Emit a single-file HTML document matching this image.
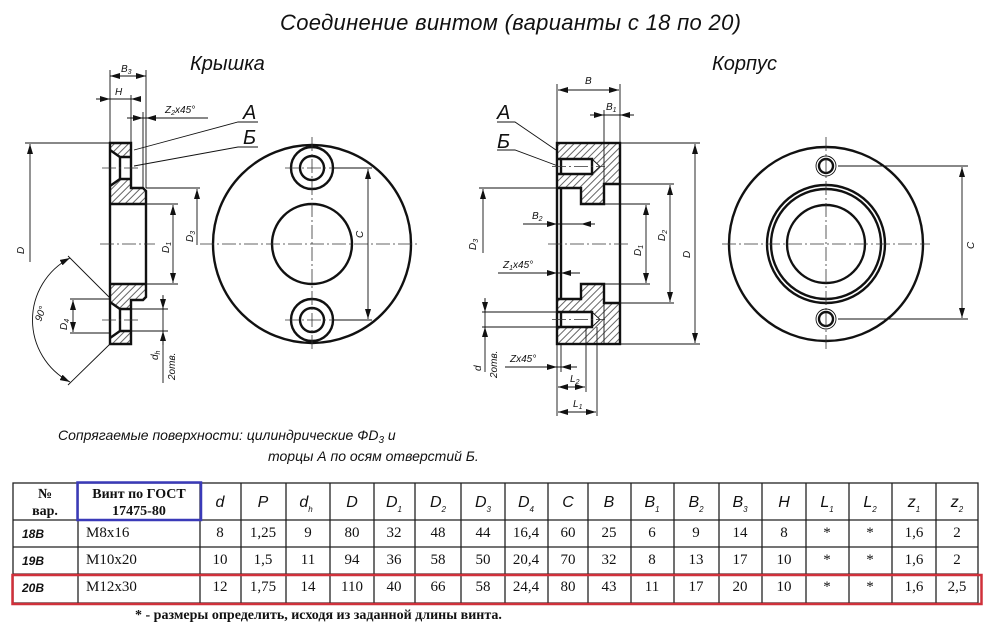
<!DOCTYPE html>
<html><head><meta charset="utf-8"><style>
html,body{margin:0;padding:0;background:#fff;}
svg{display:block;}
.t{font-family:"Liberation Sans","DejaVu Sans",sans-serif;font-style:italic;fill:#111;}
.s{font-family:"Liberation Serif","DejaVu Serif",serif;fill:#111;}
.th{stroke:#111;stroke-width:2.4;fill:none;}
.tn{stroke:#111;stroke-width:0.9;fill:none;}
.cl{stroke:#333;stroke-width:0.8;fill:none;stroke-dasharray:14 3 2 3;}
.dm{stroke:#111;stroke-width:0.9;fill:none;marker-start:url(#ar);marker-end:url(#ar);}
.d1{stroke:#111;stroke-width:0.9;fill:none;marker-end:url(#ar);}
</style></head><body>
<svg width="1000" height="630" viewBox="0 0 1000 630" xmlns="http://www.w3.org/2000/svg">
<defs>
<marker id="ar" viewBox="0 0 10 6" refX="10" refY="3" markerWidth="10" markerHeight="6" markerUnits="userSpaceOnUse" orient="auto-start-reverse"><path d="M0,0L10,3L0,6z" fill="#111"/></marker>
<pattern id="h" x="0" y="0" width="5" height="5" patternUnits="userSpaceOnUse" patternTransform="rotate(45)"><rect width="5" height="5" fill="#fff"/><line x1="2.5" y1="-1" x2="2.5" y2="6" stroke="#555" stroke-width="0.9"/></pattern>
</defs>

<text class="t" x="280" y="30" font-size="22" textLength="461">Соединение винтом (варианты с 18 по 20)</text>
<text class="t" x="190" y="70" font-size="20">Крышка</text>
<text class="t" x="712" y="70" font-size="20">Корпус</text>

<!-- ===== Крышка section ===== -->
<polygon points="110,143 131,143 131,188 143,188 146,191 146,204 110,204" fill="url(#h)"/>
<polygon points="110,284 146,284 146,297 143,300 131,300 131,344 110,344" fill="url(#h)"/>
<polygon points="110,150 120,157 131,157 131,179 120,179 110,186" fill="#fff"/>
<polygon points="110,302 120,309 131,309 131,331 120,331 110,338" fill="#fff"/>
<polygon class="th" points="110,143 131,143 131,188 143,188 146,191 146,297 143,300 131,300 131,344 110,344"/>
<line class="th" x1="110" y1="204" x2="146" y2="204"/>
<line class="th" x1="110" y1="284" x2="146" y2="284"/>
<polyline class="th" points="110,150 120,157 131,157"/><polyline class="th" points="110,186 120,179 131,179"/><line class="th" x1="120" y1="157" x2="120" y2="179"/>
<polyline class="th" points="110,302 120,309 131,309"/><polyline class="th" points="110,338 120,331 131,331"/><line class="th" x1="120" y1="309" x2="120" y2="331"/>
<line class="cl" x1="100" y1="244" x2="155" y2="244"/>
<line class="cl" x1="102" y1="168" x2="140" y2="168"/>
<line class="cl" x1="102" y1="320" x2="140" y2="320"/>
<!-- dims -->
<line class="tn" x1="110" y1="70" x2="110" y2="143"/><line class="tn" x1="146" y1="70" x2="146" y2="188"/><line class="tn" x1="131" y1="95" x2="131" y2="143"/><line class="tn" x1="143" y1="112" x2="143" y2="188"/>
<line class="dm" x1="110" y1="76" x2="146" y2="76"/><text class="t" x="121" y="72" font-size="10">B<tspan font-size="7" dy="2">3</tspan></text>
<line class="tn" x1="96" y1="99" x2="131" y2="99"/><line class="d1" x1="98" y1="99" x2="110" y2="99"/><line class="d1" x1="140" y1="99" x2="131" y2="99"/>
<text class="t" x="115" y="95" font-size="10">H</text>
<line class="tn" x1="127" y1="118" x2="208" y2="118"/><line class="d1" x1="128" y1="118" x2="143" y2="118"/><line class="d1" x1="160" y1="118" x2="146" y2="118"/>
<text class="t" x="165" y="113" font-size="10">Z<tspan font-size="7" dy="2">2</tspan><tspan dy="-2">x45°</tspan></text>
<text class="t" x="243" y="119" font-size="20">А</text><text class="t" x="243" y="144" font-size="20">Б</text>
<polyline class="tn" points="258,122 238,122 134,150"/><polyline class="tn" points="258,147 238,147 134,166"/>
<line class="tn" x1="25" y1="143" x2="110" y2="143"/><line class="d1" x1="30" y1="262" x2="30" y2="144"/>
<text class="t" font-size="10" transform="translate(24,254) rotate(-90)">D</text>
<line class="tn" x1="146" y1="188" x2="200" y2="188"/><line class="d1" x1="197" y1="245" x2="197" y2="189"/>
<text class="t" font-size="10" transform="translate(193,242) rotate(-90)">D<tspan font-size="7" dy="2">3</tspan></text>
<line class="tn" x1="146" y1="204" x2="178" y2="204"/><line class="tn" x1="146" y1="284" x2="178" y2="284"/>
<line class="dm" x1="173" y1="205" x2="173" y2="283"/>
<text class="t" font-size="10" transform="translate(169,253) rotate(-90)">D<tspan font-size="7" dy="2">1</tspan></text>
<line class="tn" x1="70" y1="299" x2="110" y2="299"/><line class="tn" x1="70" y1="333" x2="110" y2="333"/>
<line class="dm" x1="73" y1="300" x2="73" y2="332"/>
<text class="t" font-size="10" transform="translate(67,330) rotate(-90)">D<tspan font-size="7" dy="2">4</tspan></text>
<line class="tn" x1="110" y1="298" x2="68" y2="256"/><line class="tn" x1="110" y1="344" x2="68" y2="385"/>
<path class="dm" d="M70,258 A70,70 0 0,0 70,382"/>
<text class="t" font-size="10" transform="translate(41,322) rotate(-70)">90°</text>
<line class="tn" x1="131" y1="309" x2="168" y2="309"/><line class="tn" x1="131" y1="331" x2="168" y2="331"/>
<line class="tn" x1="163" y1="295" x2="163" y2="383"/><line class="d1" x1="163" y1="296" x2="163" y2="309"/><line class="d1" x1="163" y1="345" x2="163" y2="331"/>
<text class="t" font-size="10" transform="translate(158,360) rotate(-90)">d<tspan font-size="7" dy="2">h</tspan></text>
<text class="t" font-size="10" transform="translate(175,380) rotate(-90)">2отв.</text>

<!-- Крышка front view -->
<circle class="th" cx="312" cy="244" r="99"/>
<circle class="th" cx="312" cy="244" r="40"/>
<circle class="th" cx="312" cy="168" r="21"/><circle class="th" cx="312" cy="168" r="12"/>
<circle class="th" cx="312" cy="320" r="21"/><circle class="th" cx="312" cy="320" r="12"/>
<line class="cl" x1="200" y1="244" x2="420" y2="244"/><line class="cl" x1="312" y1="137" x2="312" y2="352"/>
<line class="cl" x1="285" y1="168" x2="340" y2="168"/><line class="cl" x1="285" y1="320" x2="340" y2="320"/>
<line class="tn" x1="333" y1="168" x2="372" y2="168"/><line class="tn" x1="333" y1="320" x2="372" y2="320"/>
<line class="dm" x1="368" y1="169" x2="368" y2="319"/>
<text class="t" font-size="10" transform="translate(363,238) rotate(-90)">C</text>

<!-- ===== Корпус section ===== -->
<polygon points="557,143 620,143 620,184 604,184 604,204 581,204 581,188 557,188" fill="url(#h)"/>
<polygon points="557,299 581,299 581,284 604,284 604,303 620,303 620,344 557,344" fill="url(#h)"/>
<polygon points="557,159 592,159 600,166.5 592,174 557,174" fill="#fff"/>
<polygon points="557,312 592,312 600,319.5 592,327 557,327" fill="#fff"/>
<rect class="th" x="557" y="143" width="63" height="201"/>
<polyline class="th" points="557,188 581,188 581,204 604,204 604,184 620,184"/>
<polyline class="th" points="557,299 581,299 581,284 604,284 604,303 620,303"/>
<line class="th" x1="561" y1="188" x2="561" y2="299"/>
<line class="tn" x1="604" y1="143" x2="604" y2="184"/><line class="tn" x1="604" y1="303" x2="604" y2="344"/>
<polyline class="th" points="557,159 592,159 592,174 557,174"/><polyline class="tn" points="592,159 600,166.5 592,174"/><line class="th" x1="561" y1="159" x2="561" y2="174"/>
<polyline class="th" points="557,312 592,312 592,327 557,327"/><polyline class="tn" points="592,312 600,319.5 592,327"/><line class="th" x1="561" y1="312" x2="561" y2="327"/>
<line class="cl" x1="548" y1="244" x2="630" y2="244"/>
<line class="cl" x1="552" y1="166.5" x2="605" y2="166.5"/><line class="cl" x1="552" y1="319.5" x2="605" y2="319.5"/>
<!-- dims -->
<line class="tn" x1="557" y1="84" x2="557" y2="143"/><line class="tn" x1="620" y1="84" x2="620" y2="143"/><line class="tn" x1="604" y1="110" x2="604" y2="143"/>
<line class="dm" x1="558" y1="90" x2="619" y2="90"/><text class="t" x="585" y="84" font-size="10">B</text>
<line class="tn" x1="590" y1="115" x2="634" y2="115"/><line class="d1" x1="591" y1="115" x2="604" y2="115"/><line class="d1" x1="633" y1="115" x2="620" y2="115"/>
<text class="t" x="606" y="110" font-size="10">B<tspan font-size="7" dy="2">1</tspan></text>
<text class="t" x="497" y="119" font-size="20">А</text><text class="t" x="497" y="148" font-size="20">Б</text>
<polyline class="tn" points="497,122 515,122 556,150"/><polyline class="tn" points="497,150 515,150 558,166"/>
<line class="tn" x1="479" y1="188" x2="557" y2="188"/><line class="d1" x1="483" y1="253" x2="483" y2="189"/>
<text class="t" font-size="10" transform="translate(476,250) rotate(-90)">D<tspan font-size="7" dy="2">3</tspan></text>
<line class="tn" x1="523" y1="224" x2="595" y2="224"/><line class="d1" x1="545" y1="224" x2="557" y2="224"/><line class="d1" x1="593" y1="224" x2="581" y2="224"/>
<text class="t" x="532" y="219" font-size="10">B<tspan font-size="7" dy="2">2</tspan></text>
<line class="tn" x1="498" y1="273" x2="580" y2="273"/><line class="d1" x1="545" y1="273" x2="557" y2="273"/><line class="d1" x1="575" y1="273" x2="561" y2="273"/>
<text class="t" x="503" y="268" font-size="10">Z<tspan font-size="7" dy="2">1</tspan><tspan dy="-2">x45°</tspan></text>
<line class="tn" x1="604" y1="204" x2="650" y2="204"/><line class="tn" x1="604" y1="284" x2="650" y2="284"/>
<line class="dm" x1="646" y1="205" x2="646" y2="283"/>
<text class="t" font-size="10" transform="translate(641,256) rotate(-90)">D<tspan font-size="7" dy="2">1</tspan></text>
<line class="tn" x1="620" y1="184" x2="674" y2="184"/><line class="tn" x1="620" y1="303" x2="674" y2="303"/>
<line class="dm" x1="670" y1="185" x2="670" y2="302"/>
<text class="t" font-size="10" transform="translate(665,241) rotate(-90)">D<tspan font-size="7" dy="2">2</tspan></text>
<line class="tn" x1="620" y1="143" x2="700" y2="143"/><line class="tn" x1="620" y1="344" x2="700" y2="344"/>
<line class="dm" x1="695" y1="144" x2="695" y2="343"/>
<text class="t" font-size="10" transform="translate(690,258) rotate(-90)">D</text>
<line class="tn" x1="482" y1="312" x2="557" y2="312"/><line class="tn" x1="482" y1="327" x2="557" y2="327"/>
<line class="tn" x1="485" y1="298" x2="485" y2="372"/><line class="d1" x1="485" y1="299" x2="485" y2="312"/><line class="d1" x1="485" y1="340" x2="485" y2="327"/>
<text class="t" font-size="10" transform="translate(481,371) rotate(-90)">d</text>
<text class="t" font-size="10" transform="translate(497,378) rotate(-90)">2отв.</text>
<line class="tn" x1="557" y1="344" x2="557" y2="416"/><line class="tn" x1="561" y1="344" x2="561" y2="372"/><line class="tn" x1="586" y1="327" x2="586" y2="392"/><line class="tn" x1="597" y1="327" x2="597" y2="416"/>
<line class="tn" x1="505" y1="367" x2="577" y2="367"/><line class="d1" x1="545" y1="367" x2="557" y2="367"/><line class="d1" x1="573" y1="367" x2="561" y2="367"/>
<text class="t" x="510" y="362" font-size="10">Zx45°</text>
<line class="dm" x1="558" y1="387" x2="585" y2="387"/><text class="t" x="570" y="382" font-size="10">L<tspan font-size="7" dy="2">2</tspan></text>
<line class="dm" x1="558" y1="412" x2="596" y2="412"/><text class="t" x="573" y="407" font-size="10">L<tspan font-size="7" dy="2">1</tspan></text>

<!-- Корпус front view -->
<circle class="th" cx="826" cy="244" r="97" stroke-width="1.8"/>
<circle class="th" cx="826" cy="244" r="59"/>
<circle class="th" cx="826" cy="244" r="55"/>
<circle class="th" cx="826" cy="244" r="39"/>
<circle class="tn" cx="826" cy="166" r="10"/><circle class="th" cx="826" cy="166" r="7"/>
<circle class="tn" cx="826" cy="319" r="10"/><circle class="th" cx="826" cy="319" r="7"/>
<line class="cl" x1="722" y1="244" x2="930" y2="244"/><line class="cl" x1="826" y1="137" x2="826" y2="352"/>
<line class="tn" x1="838" y1="166" x2="968" y2="166"/><line class="tn" x1="838" y1="319" x2="968" y2="319"/>
<line class="dm" x1="962" y1="167" x2="962" y2="318"/>
<text class="t" font-size="10" transform="translate(974,249) rotate(-90)">C</text>

<!-- note -->
<text class="t" x="58" y="440" font-size="14">Сопрягаемые поверхности: цилиндрические ФD<tspan font-size="10" dy="3">3</tspan><tspan dy="-3"> и</tspan></text>
<text class="t" x="268" y="461" font-size="14">торцы А по осям отверстий Б.</text>

<!-- table -->
<g stroke="#222" stroke-width="1.3" fill="none">
<rect x="13" y="483" width="965" height="120"/>
<line x1="13" y1="520" x2="978" y2="520"/><line x1="13" y1="547" x2="978" y2="547"/><line x1="13" y1="574" x2="978" y2="574"/>
<line x1="78" y1="483" x2="78" y2="603"/><line x1="200" y1="483" x2="200" y2="603"/><line x1="241" y1="483" x2="241" y2="603"/><line x1="286" y1="483" x2="286" y2="603"/><line x1="330" y1="483" x2="330" y2="603"/><line x1="374" y1="483" x2="374" y2="603"/><line x1="415" y1="483" x2="415" y2="603"/><line x1="461" y1="483" x2="461" y2="603"/><line x1="505" y1="483" x2="505" y2="603"/><line x1="548" y1="483" x2="548" y2="603"/><line x1="588" y1="483" x2="588" y2="603"/><line x1="631" y1="483" x2="631" y2="603"/><line x1="674" y1="483" x2="674" y2="603"/><line x1="719" y1="483" x2="719" y2="603"/><line x1="762" y1="483" x2="762" y2="603"/><line x1="806" y1="483" x2="806" y2="603"/><line x1="849" y1="483" x2="849" y2="603"/><line x1="892" y1="483" x2="892" y2="603"/><line x1="936" y1="483" x2="936" y2="603"/>
</g>
<rect x="77.5" y="482.5" width="123.5" height="37.5" fill="none" stroke="#3a3ab8" stroke-width="2.5"/>
<rect x="12.5" y="575" width="969" height="29" fill="none" stroke="#d0303a" stroke-width="2.5"/>
<g class="s" font-weight="bold" font-size="14" text-anchor="middle">
<text x="45" y="498">№</text><text x="45" y="515">вар.</text>
<text x="139" y="498">Винт по ГОСТ</text><text x="139" y="515">17475-80</text>
</g>
<g class="t" font-size="16" text-anchor="middle">
<text x="220" y="507">d</text><text x="263" y="507">P</text>
<text x="306" y="507">d<tspan font-size="8" dy="5">h</tspan></text>
<text x="352" y="507">D</text>
<text x="394" y="507">D<tspan font-size="8" dy="5">1</tspan></text>
<text x="438" y="507">D<tspan font-size="8" dy="5">2</tspan></text>
<text x="483" y="507">D<tspan font-size="8" dy="5">3</tspan></text>
<text x="526" y="507">D<tspan font-size="8" dy="5">4</tspan></text>
<text x="568" y="507">C</text><text x="609" y="507">B</text>
<text x="652" y="507">B<tspan font-size="8" dy="5">1</tspan></text>
<text x="696" y="507">B<tspan font-size="8" dy="5">2</tspan></text>
<text x="740" y="507">B<tspan font-size="8" dy="5">3</tspan></text>
<text x="784" y="507">H</text>
<text x="827" y="507">L<tspan font-size="8" dy="5">1</tspan></text>
<text x="870" y="507">L<tspan font-size="8" dy="5">2</tspan></text>
<text x="914" y="507">z<tspan font-size="8" dy="5">1</tspan></text>
<text x="957" y="507">z<tspan font-size="8" dy="5">2</tspan></text>
</g>
<g class="t" font-size="12" font-weight="bold"><text x="22" y="538">18B</text><text x="22" y="565">19B</text><text x="22" y="592">20B</text></g>
<g class="s" font-size="15"><text x="86" y="537">M8x16</text><text x="86" y="564">M10x20</text><text x="86" y="591">M12x30</text></g>
<g class="s" font-size="15" text-anchor="middle">
<text y="537"><tspan x="220">8</tspan><tspan x="263">1,25</tspan><tspan x="308">9</tspan><tspan x="352">80</tspan><tspan x="394">32</tspan><tspan x="438">48</tspan><tspan x="483">44</tspan><tspan x="526">16,4</tspan><tspan x="568">60</tspan><tspan x="609">25</tspan><tspan x="652">6</tspan><tspan x="696">9</tspan><tspan x="740">14</tspan><tspan x="784">8</tspan><tspan x="827">*</tspan><tspan x="870">*</tspan><tspan x="914">1,6</tspan><tspan x="957">2</tspan></text>
<text y="564"><tspan x="220">10</tspan><tspan x="263">1,5</tspan><tspan x="308">11</tspan><tspan x="352">94</tspan><tspan x="394">36</tspan><tspan x="438">58</tspan><tspan x="483">50</tspan><tspan x="526">20,4</tspan><tspan x="568">70</tspan><tspan x="609">32</tspan><tspan x="652">8</tspan><tspan x="696">13</tspan><tspan x="740">17</tspan><tspan x="784">10</tspan><tspan x="827">*</tspan><tspan x="870">*</tspan><tspan x="914">1,6</tspan><tspan x="957">2</tspan></text>
<text y="591"><tspan x="220">12</tspan><tspan x="263">1,75</tspan><tspan x="308">14</tspan><tspan x="352">110</tspan><tspan x="394">40</tspan><tspan x="438">66</tspan><tspan x="483">58</tspan><tspan x="526">24,4</tspan><tspan x="568">80</tspan><tspan x="609">43</tspan><tspan x="652">11</tspan><tspan x="696">17</tspan><tspan x="740">20</tspan><tspan x="784">10</tspan><tspan x="827">*</tspan><tspan x="870">*</tspan><tspan x="914">1,6</tspan><tspan x="957">2,5</tspan></text>
</g>
<text class="s" x="135" y="619" font-size="14" font-weight="bold">* - размеры определить, исходя из заданной длины винта.</text>
</svg>
</body></html>
